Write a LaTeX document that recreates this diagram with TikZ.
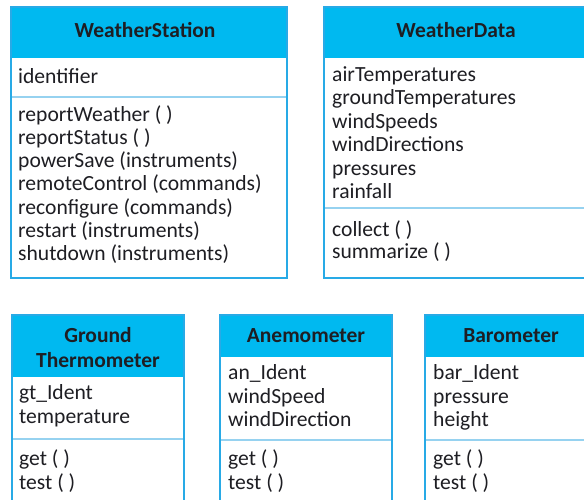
\documentclass[tikz,border=0pt]{standalone}
\usepackage{fontspec}
\setmainfont{Carlito}
\definecolor{hdrcol}{RGB}{0,185,240}
\definecolor{bordcol}{RGB}{40,170,230}
\definecolor{sepcol}{RGB}{150,210,240}
\definecolor{txtcol}{RGB}{30,30,35}
\tikzset{
  border/.style={draw=bordcol, line width=1.6pt},
  hdrfill/.style={fill=hdrcol},
  sepline/.style={draw=sepcol, line width=1.2pt},
  txt/.style={inner sep=0pt, anchor=base west, text=txtcol, font=\fontsize{21.6}{23}\selectfont},
  hdr/.style={inner sep=0pt, anchor=base, text=txtcol, font=\bfseries\fontsize{21.5}{23}\selectfont},
}
\begin{document}
\begin{tikzpicture}[x=1pt,y=-1pt]
\useasboundingbox (0,0) rectangle (584,499);
\clip (0,0) rectangle (584,499);
\fill[white] (0,0) rectangle (584,499);

% ---------- WeatherStation ----------
\fill[hdrfill] (11,7) rectangle (287,58);
\draw[sepline] (11,97) -- (287,97);
\draw[border] (11,7) rectangle (287,278);
\node[hdr] (wsh) at (145,37) {WeatherStation};
\node[txt] (wsa1) at (18,83) {identifier};
\foreach \t [count=\i] in {reportWeather ( ), reportStatus ( ), powerSave (instruments), remoteControl (commands), reconfigure (commands), restart (instruments), shutdown (instruments)}
  \node[txt] (wsm\i) at (18,{121+23.3*(\i-1)}) {\t};

% ---------- WeatherData ----------
\fill[hdrfill] (324,7) rectangle (600,58);
\draw[sepline] (324,208) -- (600,208);
\draw[border] (324,7) rectangle (600,278);
\node[hdr] (wdh) at (456,37) {WeatherData};
\foreach \t [count=\i] in {airTemperatures, groundTemperatures, windSpeeds, windDirections, pressures, rainfall}
  \node[txt] (wda\i) at (332,{81+23.5*(\i-1)}) {\t};
\node[txt] (wdm1) at (332,236) {collect ( )};
\node[txt] (wdm2) at (332,258) {summarize ( )};

% ---------- Ground Thermometer ----------
\fill[hdrfill] (12,315) rectangle (184,377);
\draw[sepline] (12,439) -- (184,439);
\draw[border] (12,315) rectangle (184,520);
\node[hdr] (gth1) at (98,342) {Ground};
\node[hdr] (gth2) at (98,367) {Thermometer};
\node[txt] (gta1) at (19,399) {gt\_Ident};
\node[txt] (gta2) at (19,423) {temperature};
\node[txt] (gtm1) at (19,465) {get ( )};
\node[txt] (gtm2) at (19,489) {test ( )};

% ---------- Anemometer ----------
\fill[hdrfill] (220,315) rectangle (392,357);
\draw[sepline] (220,440) -- (392,440);
\draw[border] (220,315) rectangle (392,520);
\node[hdr] (anh) at (306,342) {Anemometer};
\node[txt] (ana1) at (228,379) {an\_Ident};
\node[txt] (ana2) at (228,403) {windSpeed};
\node[txt] (ana3) at (228,426) {windDirection};
\node[txt] (anm1) at (228,465) {get ( )};
\node[txt] (anm2) at (228,489) {test ( )};

% ---------- Barometer ----------
\fill[hdrfill] (425,315) rectangle (597,357);
\draw[sepline] (425,440) -- (597,440);
\draw[border] (425,315) rectangle (597,520);
\node[hdr] (bah) at (511,342) {Barometer};
\node[txt] (baa1) at (433,379) {bar\_Ident};
\node[txt] (baa2) at (433,403) {pressure};
\node[txt] (baa3) at (433,426) {height};
\node[txt] (bam1) at (433,465) {get ( )};
\node[txt] (bam2) at (433,489) {test ( )};
\end{tikzpicture}
\end{document}
